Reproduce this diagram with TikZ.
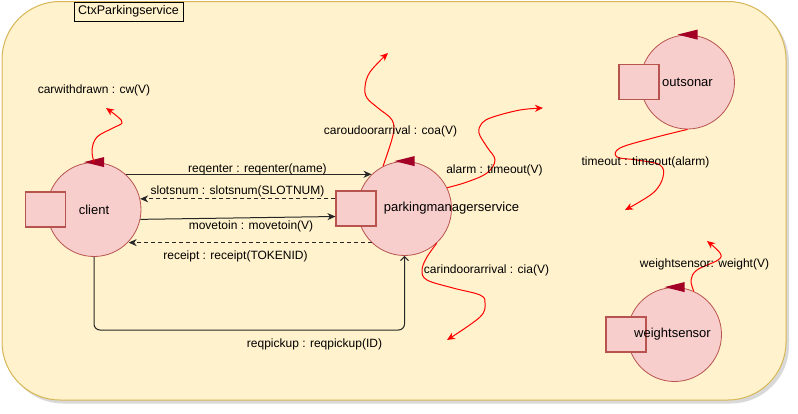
\documentclass[tikz,border=0pt]{standalone}
\usepackage{fontspec}
\setmainfont{Liberation Sans}
\usepackage{tikz}
\usetikzlibrary{calc, positioning, arrows.meta, shapes.geometric}
\definecolor{ctxFill}{HTML}{FFF2CC}
\definecolor{ctxLine}{HTML}{D6B656}
\definecolor{actorFill}{HTML}{F8CECC}
\definecolor{actorLine}{HTML}{B85450}
\definecolor{flagRed}{HTML}{A20025}
\tikzset{
    ctx/.style={draw=ctxLine, fill=ctxFill, line width=1pt, rounded corners=58pt},
    ctxTitleBox/.style={rectangle, draw=black, line width=0.8pt, minimum width=109pt, minimum height=19pt, inner sep=0pt, font=\fontsize{12.5}{14}\selectfont},
    actor/.style={circle, draw=actorLine, fill=actorFill, line width=0.8pt, minimum size=94pt, inner sep=0pt},
    actorName/.style={font=\fontsize{13}{15}\selectfont, inner sep=0pt},
    port/.style={rectangle, draw=actorLine, fill=actorFill, line width=1.3pt, minimum width=40pt, minimum height=35pt, inner sep=0pt},
    flag/.style={fill=flagRed},
    msgLabel/.style={font=\fontsize{12}{14}\selectfont, inner sep=1pt},
    flow/.style={-{Stealth[length=8pt, width=7pt, inset=2.5pt]}, line width=1pt, draw=black!85},
    reply/.style={flow, dash pattern=on 4pt off 3pt},
    pickup/.style={-{Straight Barb[length=4pt, width=8pt]}, line width=1pt, draw=black!85, rounded corners=6pt},
    event/.style={-{Stealth[length=8pt, width=7pt, inset=2.5pt]}, draw=red, line width=1pt}
}

\begin{document}
\begin{tikzpicture}[x=1pt, y=-1pt]
    \useasboundingbox (0,0) rectangle (798,413);

    % Context
    \fill[black, opacity=0.15, rounded corners=58pt] (5,4.5) rectangle (789,403.5);
    \draw[ctx] (2,1.5) rectangle (786,400);
    \node[ctxTitleBox] (ctxTitle) at (128.5,11.5) {CtxParkingservice};

    % Actors
    \node[actor] (client) at (94,209.5) {};
    \node[actor] (pm) at (404.5,208.5) {};
    \node[actor] (outsonar) at (687.5,82) {};
    \node[actor] (weight) at (674.5,334.5) {};

    \node[port] (clientPort) at ([xshift=-1pt]client.west) {};
    \node[port] (pmPort) at ([xshift=-1pt]pm.west) {};
    \node[port] (sonarPort) at ([xshift=-1pt]outsonar.west) {};
    \node[port] (weightPort) at ([xshift=-1pt]weight.west) {};

    \node[actorName] (clientText) at (client.center) {client};
    \node[actorName] (pmText) at ([xshift=47pt]pm.center) {parkingmanagerservice};
    \node[actorName] (sonarText) at (outsonar.center) {outsonar};
    \node[actorName] (weightText) at ([xshift=-2pt]weight.center) {weightsensor};

    \foreach \a in {client, pm, outsonar, weight}
        \fill[flag] ($(\a.north)+(-10,0)$) -- ++(20,-5) -- ++(0,10) -- cycle;

    % Messages client <-> manager
    \draw[flow] (client.48) -- (client.48 -| pm.134);
    \draw[reply] (pmPort.west |- client.13) -- (client.13);
    \draw[flow] (client.-12) -- ([yshift=-8pt]pmPort.west);
    \draw[reply] (pm.-134) -- (pm.-134 -| client.-43);
    \coordinate (pickupTurn) at (250,330);
    \draw[pickup] (client.south) |- (pickupTurn) -| (pm.south);

    \node[msgLabel] (reqenterLabel) at (257.5,169) {reqenter : reqenter(name)};
    \node[msgLabel] (slotsnumLabel) at (237.5,191) {slotsnum : slotsnum(SLOTNUM)};
    \node[msgLabel] (movetoinLabel) at (251,226) {movetoin : movetoin(V)};
    \node[msgLabel] (receiptLabel) at (235.5,256) {receipt : receipt(TOKENID)};
    \node[msgLabel] (reqpickupLabel) at (314.5,344) {reqpickup : reqpickup(ID)};

    % Emitted events
    \coordinate (cwEnd) at (106,108);
    \coordinate (coaEnd) at (388,53);
    \coordinate (alarmEnd) at (543,108);
    \coordinate (ciaEnd) at (447,340);
    \coordinate (timeoutEnd) at (625,210);
    \coordinate (weightEnd) at (707,241);

    \draw[event] plot[smooth, tension=0.6] coordinates {(client.north) (92,150) (97,137) (113,128) (122,123) (118,117) (cwEnd)};
    \draw[event] plot[smooth, tension=0.6] coordinates {(pm.117) (393,135) (392,120) (378,108) (367,98) (365,87) (370,72) (coaEnd)};
    \draw[event] plot[smooth, tension=0.6] coordinates {(pm.26) (467,182) (487,173) (495,160) (487,147) (479,133) (482,123) (493,117) (520,110) (alarmEnd)};
    \draw[event] plot[smooth, tension=0.6] coordinates {(pm.-47) (427,257) (422,270) (427,280) (453,288) (480,295) (485,303) (480,317) (ciaEnd)};
    \draw[event] plot[smooth, tension=0.6] coordinates {(outsonar.south) (653,138) (620,148) (617,157) (637,160) (660,165) (663,177) (653,193) (timeoutEnd)};
    \draw[event] plot[smooth, tension=0.6] coordinates {(weight.66) (691,280) (697,270) (718,260) (720,253) (weightEnd)};

    \node[msgLabel] (cwLabel) at (94,90) {carwithdrawn : cw(V)};
    \node[msgLabel] (coaLabel) at (390.5,131) {caroudoorarrival : coa(V)};
    \node[msgLabel] (alarmLabel) at (494.5,170) {alarm : timeout(V)};
    \node[msgLabel] (ciaLabel) at (486.5,270) {carindoorarrival : cia(V)};
    \node[msgLabel] (timeoutLabel) at (645.5,162) {timeout : timeout(alarm)};
    \node[msgLabel] (weightLabel) at (704.5,264) {weightsensor: weight(V)};
\end{tikzpicture}
\end{document}
